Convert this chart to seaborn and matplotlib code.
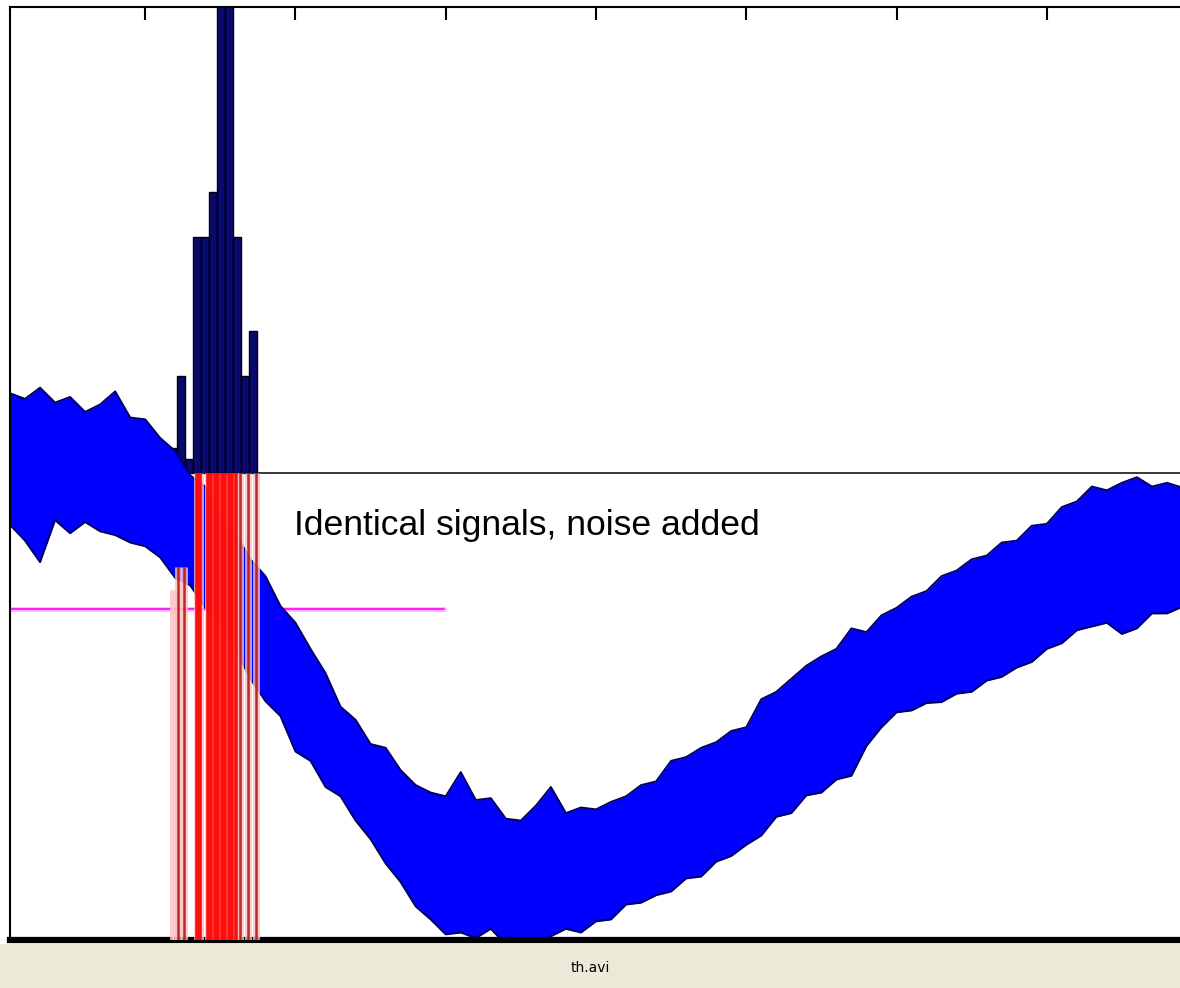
import warnings
import matplotlib
matplotlib.use("Agg")
import matplotlib.pyplot as plt
from matplotlib import font_manager
from matplotlib.patches import Rectangle
import seaborn as sns

warnings.filterwarnings("ignore")

# noisy signal band, upper / lower envelope (every 10 frames)
signal_x = [10, 20, 30, 40, 50, 60, 70, 80, 90, 100, 110, 120, 130, 140, 150, 160,
            170, 180, 190, 200, 210, 220, 230, 240, 250, 260, 270, 280, 290, 300,
            310, 320, 330, 340, 350, 360, 370, 380, 390, 400, 410, 420, 430, 440,
            450, 460, 470, 480, 490, 500, 510, 520, 530, 540, 550, 560, 570, 580,
            590, 600, 610, 620, 630, 640, 650, 660, 670, 680, 690, 700, 710, 720,
            730, 740, 750, 760, 770, 780, 790]
band_top = [5.86, 5.80, 5.92, 5.76, 5.82, 5.66, 5.74, 5.88, 5.60, 5.58, 5.38, 5.24,
            4.98, 4.86, 4.52, 4.36, 4.08, 3.90, 3.58, 3.40, 3.12, 2.86, 2.50, 2.36,
            2.10, 2.06, 1.82, 1.66, 1.58, 1.54, 1.80, 1.50, 1.52, 1.30, 1.28, 1.44,
            1.64, 1.36, 1.42, 1.40, 1.48, 1.54, 1.66, 1.70, 1.92, 1.96, 2.06, 2.12,
            2.24, 2.28, 2.58, 2.66, 2.80, 2.94, 3.04, 3.12, 3.34, 3.30, 3.48, 3.56,
            3.68, 3.74, 3.90, 3.96, 4.08, 4.12, 4.26, 4.28, 4.44, 4.46, 4.64, 4.70,
            4.86, 4.82, 4.90, 4.96, 4.86, 4.90, 4.85]
band_bottom = [4.45, 4.28, 4.05, 4.50, 4.36, 4.48, 4.38, 4.34, 4.26, 4.22, 4.10, 3.88,
               3.80, 3.56, 3.42, 3.12, 2.80, 2.56, 2.40, 2.02, 1.92, 1.64, 1.54, 1.28,
               1.08, 0.82, 0.62, 0.36, 0.22, 0.06, 0.08, 0.02, 0.12, -0.05, -0.05, -0.05,
               0.04, 0.12, 0.08, 0.20, 0.22, 0.38, 0.40, 0.48, 0.52, 0.66, 0.68, 0.84,
               0.90, 1.02, 1.12, 1.32, 1.36, 1.55, 1.58, 1.72, 1.76, 2.08, 2.28, 2.44,
               2.46, 2.54, 2.55, 2.64, 2.66, 2.78, 2.82, 2.92, 2.98, 3.12, 3.18, 3.32,
               3.36, 3.40, 3.28, 3.34, 3.50, 3.50, 3.57]

# histogram of crossing frames, standing on the black line
hist_base = 5.0
hist_centers = [118.7, 124.0, 129.3, 134.7, 140.0, 145.3, 150.7, 156.0, 161.3, 166.7, 172.0]
hist_heights = [0.27, 1.05, 0.16, 2.54, 2.54, 3.02, 6.5, 6.0, 2.54, 1.05, 1.53]
hist_width = 5.33

# red crossing markers
cross_x = [118.7, 122.0, 126.0, 134.3, 136.7, 141.7, 144.0, 146.3, 148.7, 151.0,
           153.3, 155.7, 158.0, 160.3, 163.3, 168.7, 173.7]
cross_top = [3.75, 4.0, 4.0, 5, 5, 5, 5, 5, 5, 5, 5, 5, 5, 5, 5, 5, 5]
cross_kind = ["faint", "dark", "dark", "red", "red", "red", "red", "red", "red", "red",
              "red", "red", "red", "red", "dark", "dark", "dark"]

threshold_y = 3.55
threshold_end = 298.7

x_ticks = [100, 200, 300, 400, 500, 600, 700]
y_ticks = [1, 2, 3, 4, 5, 6, 7, 8, 9]
label_text = "Identical signals, noise added"
label_x, label_y = 198.7, 4.34
footer_text = "th.avi"

sns.set_style("white")
fig = plt.figure(figsize=(11.8, 9.88), dpi=100)
fig.patch.set_facecolor("white")
ax = fig.add_axes([10 / 1180, 48 / 988, 1172 / 1180, 933 / 988])
ax.set_xlim(10, 790)
ax.set_ylim(0, 10)

# threshold and histogram baseline
ax.plot([signal_x[0], threshold_end], [threshold_y, threshold_y], color="#ffb8ff", lw=3.5, zorder=1)
ax.plot([signal_x[0], threshold_end], [threshold_y, threshold_y], color="#ff00ff", lw=1.2, zorder=1.1)
ax.axhline(hist_base, color="#383838", lw=1.4, zorder=1)

# histogram (the blue band covers its foot on the left)
ax.bar(hist_centers, hist_heights, width=hist_width, bottom=hist_base,
       color="#0a0a6e", edgecolor="black", lw=1.0, zorder=1.5)

# signal band
ax.fill_between(signal_x, band_bottom, band_top, color="#0000ff", lw=0, zorder=2)
sns.lineplot(x=signal_x, y=band_top, color="#000060", lw=1.4, ax=ax, zorder=2.1)
sns.lineplot(x=signal_x, y=band_bottom, color="#000060", lw=1.4, ax=ax, zorder=2.1)

# crossing markers
core = {"faint": "#ffc8c8", "dark": "#b41c1c", "red": "#ff0000"}
width = {"faint": 1.5, "dark": 1.8, "red": 2.6}
ax.vlines(cross_x, 0, cross_top, colors="#ffc0c0", lw=5.0, alpha=0.8, zorder=3)
for x, top, k in zip(cross_x, cross_top, cross_kind):
    ax.vlines(x, 0, top, colors=core[k], lw=width[k], alpha=0.93, zorder=3.1)

# label, narrow face if there is one
names = {f.name for f in font_manager.fontManager.ttflist}
face = "Liberation Sans Narrow" if "Liberation Sans Narrow" in names else "Liberation Sans"
t = ax.text(label_x, label_y, label_text, fontsize=30, va="baseline", ha="left",
            color="black", family=[face, "DejaVu Sans"], zorder=5)
fig.canvas.draw()
w = t.get_window_extent().width
t.set_fontsize(30 * 464 / w)

ax.set_xticks(x_ticks)
ax.set_yticks(y_ticks)
ax.tick_params(direction="in", length=9, width=1.5, color="black", top=True, right=False,
               labelbottom=False, labelleft=False)
for side in ["top", "left"]:
    ax.spines[side].set_linewidth(1.5)
    ax.spines[side].set_color("black")
ax.spines["bottom"].set_linewidth(4.5)
ax.spines["bottom"].set_color("black")
ax.spines["right"].set_visible(False)
ax.set_xlabel("")
ax.set_ylabel("")

# status bar at the bottom
fig.patches.append(Rectangle((0, 0), 1, 44 / 988, transform=fig.transFigure,
                             facecolor="#ece9d8", edgecolor="none", zorder=0))
fig.text(0.5, 20 / 988, footer_text, ha="center", va="center", fontsize=10,
         family=["DejaVu Sans"], color="black")

fig.savefig("out.png", dpi=100)
